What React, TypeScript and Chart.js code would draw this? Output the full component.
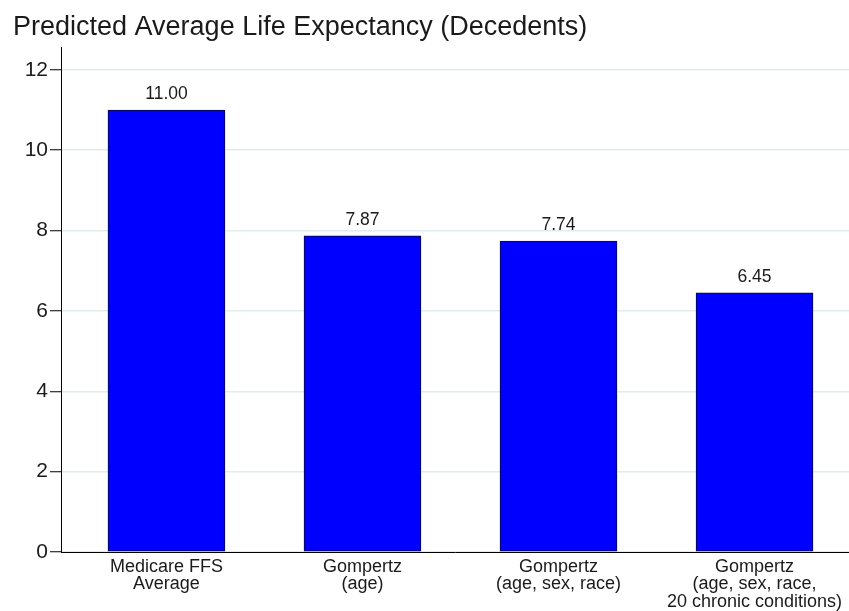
import React, { useEffect, useRef } from "react";
import { Chart, registerables } from "chart.js";

Chart.register(...registerables);

const TITLE = "Predicted Average Life Expectancy (Decedents)";
const CATEGORIES: string[][] = [
  ["Medicare FFS", "Average"],
  ["Gompertz", "(age)"],
  ["Gompertz", "(age, sex, race)"],
  ["Gompertz", "(age, sex, race,", "20 chronic conditions)"],
];
const VALUES: number[] = [11.0, 7.87, 7.74, 6.45];
const Y_TICKS: number[] = [0, 2, 4, 6, 8, 10, 12];

const FONT = "'Liberation Sans', Arial, Helvetica, sans-serif";

export default function App() {
  const ref = useRef<HTMLCanvasElement | null>(null);
  useEffect(() => {
    document.body.style.margin = "0";
    const canvas = ref.current!;
    const titlePlugin = {
      id: "customTitle",
      afterDraw(chart: any) {
        const ctx = chart.ctx;
        ctx.save();
        ctx.font = `27px ${FONT}`;
        ctx.fillStyle = "#1a1a1a";
        ctx.textAlign = "left";
        ctx.textBaseline = "alphabetic";
        ctx.fillText(TITLE, 13, 35);
        ctx.restore();
      },
    };
    const valueLabels = {
      id: "valueLabels",
      afterDatasetsDraw(chart: any) {
        const ctx = chart.ctx;
        const meta = chart.getDatasetMeta(0);
        ctx.save();
        ctx.font = `17.5px ${FONT}`;
        ctx.fillStyle = "#1a1a1a";
        ctx.textAlign = "center";
        ctx.textBaseline = "alphabetic";
        meta.data.forEach((el: any, i: number) => {
          ctx.fillText(VALUES[i].toFixed(2), el.x, el.y - 11);
        });
        ctx.restore();
      },
    };
    const chart = new Chart(canvas, {
      type: "bar",
      data: {
        datasets: [
          {
            data: VALUES.map((v, i) => ({ x: i, y: v })),
            backgroundColor: "#0000ff",
            borderColor: "#08083a",
            borderWidth: 1,
            borderSkipped: false,
            barThickness: 117,
          },
        ],
      },
      options: {
        animation: false,
        responsive: false,
        devicePixelRatio: 1,
        layout: { padding: { top: 47, right: 0, left: 0, bottom: 0 } },
        plugins: {
          legend: { display: false },
          title: { display: false },
          tooltip: { enabled: false },
        },
        scales: {
          x: {
            type: "linear",
            min: -0.538,
            max: 3.482,
            offset: false,
            grid: { display: false, drawTicks: false },
            border: { display: true, color: "#000000", width: 1 },
            afterBuildTicks: (scale: any) => {
              scale.ticks = CATEGORIES.map((_, i) => ({ value: i }));
            },
            afterFit: (scale: any) => {
              scale.height = 59;
            },
            ticks: {
              autoSkip: false,
              maxRotation: 0,
              minRotation: 0,
              padding: 6,
              color: "#1a1a1a",
              font: { family: FONT, size: 18, lineHeight: 0.97 },
              callback: (v: any) => CATEGORIES[Math.round(Number(v))] ?? "",
            },
          },
          y: {
            min: 0,
            max: 12.57,
            grid: {
              color: "#e2ecee",
              lineWidth: 1.5,
              drawTicks: true,
              tickLength: 11,
              tickColor: "#000000",
              tickWidth: 1,
            },
            border: { display: true, color: "#000000", width: 1 },
            afterBuildTicks: (scale: any) => {
              scale.ticks = Y_TICKS.map((v) => ({ value: v }));
            },
            afterFit: (scale: any) => {
              scale.width = 61;
            },
            ticks: {
              padding: 2,
              color: "#1a1a1a",
              font: { family: FONT, size: 21 },
              callback: (v: any) => String(v),
            },
          },
        },
      },
      plugins: [titlePlugin, valueLabels],
    });
    return () => chart.destroy();
  }, []);
  return <canvas ref={ref} width={849} height={611} style={{ display: "block" }} />;
}
